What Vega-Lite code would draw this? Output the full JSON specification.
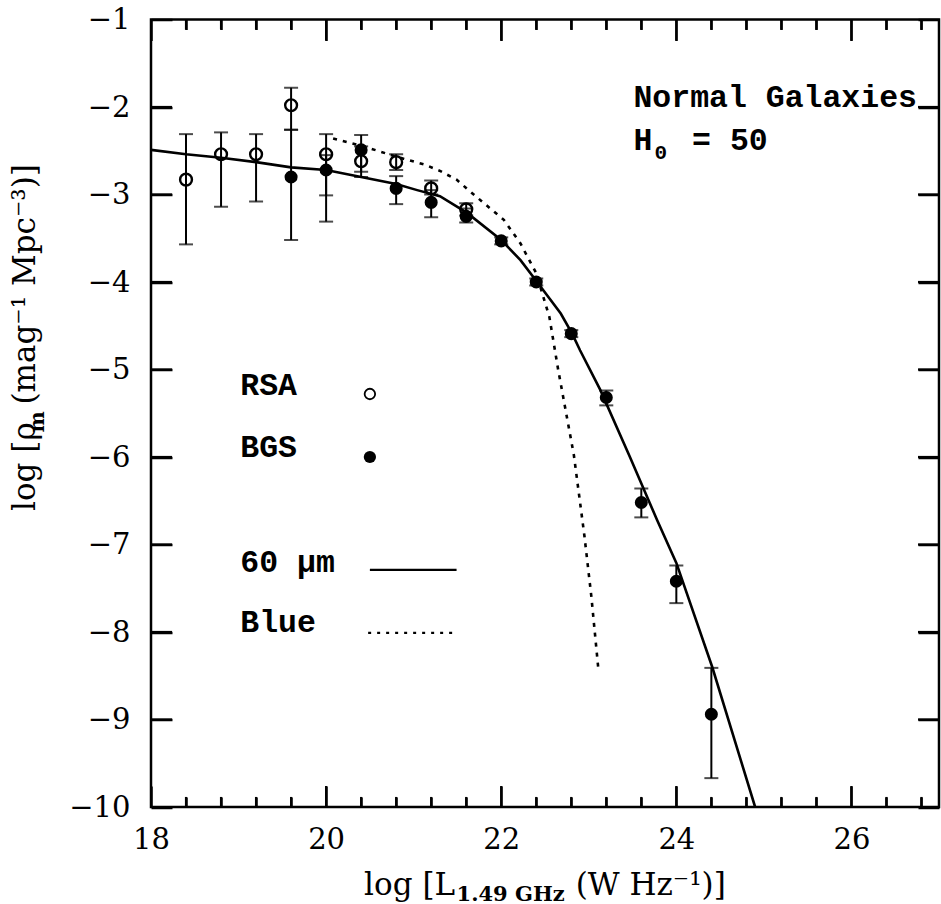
{
  "$schema": "https://vega.github.io/schema/vega-lite/v6.json",
  "width": 788,
  "height": 787.5,
  "autosize": {"type": "none"},
  "padding": {"left": 151, "top": 19.5, "right": 2, "bottom": 97},
  "config": {
    "view": {"stroke": "black", "strokeWidth": 2.5},
    "axis": {"grid": false, "domain": false, "tickWidth": 2.5, "labelColor": "black", "labelFont": "DejaVu Serif", "labelFontSize": 29, "zindex": 1}
  },
  "datasets": {
    "points": [
      {"sample": "RSA", "x": 18.4, "y": -2.83, "lo": -3.57, "hi": -2.31},
      {"sample": "RSA", "x": 18.8, "y": -2.54, "lo": -3.14, "hi": -2.29},
      {"sample": "RSA", "x": 19.2, "y": -2.54, "lo": -3.08, "hi": -2.31},
      {"sample": "RSA", "x": 19.6, "y": -1.98, "lo": -2.26, "hi": -1.78},
      {"sample": "RSA", "x": 20.0, "y": -2.54, "lo": -3.01, "hi": -2.31},
      {"sample": "RSA", "x": 20.4, "y": -2.62, "lo": -2.80, "hi": -2.45},
      {"sample": "RSA", "x": 20.8, "y": -2.63, "lo": -2.72, "hi": -2.54},
      {"sample": "RSA", "x": 21.2, "y": -2.93, "lo": -3.00, "hi": -2.84},
      {"sample": "RSA", "x": 21.6, "y": -3.17, "lo": -3.24, "hi": -3.10},
      {"sample": "BGS", "x": 19.6, "y": -2.80, "lo": -3.52, "hi": -2.26},
      {"sample": "BGS", "x": 20.0, "y": -2.72, "lo": -3.31, "hi": -2.55},
      {"sample": "BGS", "x": 20.4, "y": -2.49, "lo": -2.74, "hi": -2.32},
      {"sample": "BGS", "x": 20.8, "y": -2.93, "lo": -3.11, "hi": -2.79},
      {"sample": "BGS", "x": 21.2, "y": -3.09, "lo": -3.26, "hi": -2.95},
      {"sample": "BGS", "x": 21.6, "y": -3.25, "lo": -3.32, "hi": -3.16},
      {"sample": "BGS", "x": 22.0, "y": -3.53, "lo": -3.57, "hi": -3.49},
      {"sample": "BGS", "x": 22.4, "y": -4.00, "lo": -4.04, "hi": -3.96},
      {"sample": "BGS", "x": 22.8, "y": -4.59, "lo": -4.63, "hi": -4.55},
      {"sample": "BGS", "x": 23.2, "y": -5.32, "lo": -5.41, "hi": -5.24},
      {"sample": "BGS", "x": 23.6, "y": -6.52, "lo": -6.69, "hi": -6.36},
      {"sample": "BGS", "x": 24.0, "y": -7.42, "lo": -7.67, "hi": -7.24},
      {"sample": "BGS", "x": 24.4, "y": -8.94, "lo": -9.67, "hi": -8.41}
    ],
    "fir": [
      {"x": 18.0, "y": -2.49}, {"x": 18.4, "y": -2.54}, {"x": 18.8, "y": -2.58},
      {"x": 19.2, "y": -2.63}, {"x": 19.6, "y": -2.69}, {"x": 20.0, "y": -2.72},
      {"x": 20.4, "y": -2.80}, {"x": 20.8, "y": -2.88}, {"x": 21.04, "y": -2.95},
      {"x": 21.3, "y": -3.02}, {"x": 21.61, "y": -3.21}, {"x": 22.0, "y": -3.52},
      {"x": 22.22, "y": -3.75}, {"x": 22.41, "y": -4.0}, {"x": 22.68, "y": -4.36},
      {"x": 22.81, "y": -4.59}, {"x": 22.9, "y": -4.78}, {"x": 23.13, "y": -5.23},
      {"x": 23.47, "y": -6.0}, {"x": 23.78, "y": -6.72}, {"x": 24.0, "y": -7.21},
      {"x": 24.41, "y": -8.40}, {"x": 24.9, "y": -10.0}
    ],
    "blue": [
      {"x": 20.08, "y": -2.36}, {"x": 20.46, "y": -2.46}, {"x": 20.81, "y": -2.57},
      {"x": 21.13, "y": -2.66}, {"x": 21.3, "y": -2.73}, {"x": 21.49, "y": -2.83},
      {"x": 21.65, "y": -2.97}, {"x": 22.03, "y": -3.29}, {"x": 22.22, "y": -3.56},
      {"x": 22.4, "y": -3.9}, {"x": 22.55, "y": -4.4}, {"x": 22.65, "y": -5.0},
      {"x": 22.83, "y": -5.98}, {"x": 22.95, "y": -6.9}, {"x": 23.03, "y": -7.6},
      {"x": 23.11, "y": -8.43}
    ],
    "xMajor": [{"x": 20}, {"x": 22}, {"x": 24}, {"x": 26}],
    "xMinor": [
      {"x": 18.4}, {"x": 18.8}, {"x": 19.2}, {"x": 19.6}, {"x": 20.4}, {"x": 20.8},
      {"x": 21.2}, {"x": 21.6}, {"x": 22.4}, {"x": 22.8}, {"x": 23.2}, {"x": 23.6},
      {"x": 24.4}, {"x": 24.8}, {"x": 25.2}, {"x": 25.6}, {"x": 26.4}, {"x": 26.8}
    ],
    "yMajor": [{"y": -2}, {"y": -3}, {"y": -4}, {"y": -5}, {"y": -6}, {"y": -7}, {"y": -8}, {"y": -9}],
    "legendLines": [
      {"series": "60 μm", "x": 20.5, "y": -7.29}, {"series": "60 μm", "x": 21.49, "y": -7.29},
      {"series": "Blue", "x": 20.48, "y": -8.01}, {"series": "Blue", "x": 21.45, "y": -8.01}
    ],
    "legendSymbols": [
      {"sample": "RSA", "x": 20.5, "y": -5.28},
      {"sample": "BGS", "x": 20.5, "y": -6.0}
    ],
    "labels": [
      {"label": "RSA", "x": 19.02, "y": -5.29},
      {"label": "BGS", "x": 19.02, "y": -6.0},
      {"label": "60 μm", "x": 19.02, "y": -7.31},
      {"label": "Blue", "x": 19.02, "y": -8.0},
      {"label": "Normal Galaxies", "x": 23.51, "y": -2.0},
      {"label": "H", "x": 23.51, "y": -2.49},
      {"label": "= 50", "x": 24.18, "y": -2.49}
    ]
  },
  "layer": [
    {
      "data": {"name": "fir"},
      "mark": {"type": "line", "color": "black", "strokeWidth": 2.6},
      "encoding": {
        "x": {"field": "x", "type": "quantitative",
          "scale": {"domain": [18, 27], "nice": false, "zero": false},
          "axis": {"orient": "bottom", "title": null, "values": [18, 20, 22, 24, 26], "format": "d", "tickColor": "#000000",
            "tickSize": -21, "labelPadding": 39, "labelBaseline": "top", "labelFlush": false, "labelOverlap": false}},
        "y": {"field": "y", "type": "quantitative",
          "scale": {"domain": [-10, -1], "nice": false, "zero": false},
          "axis": {"orient": "left", "title": null, "tickColor": "#000000",
            "values": [-1, -2, -3, -4, -5, -6, -7, -8, -9, -10],
            "tickSize": -21, "labelPadding": 42, "labelBaseline": "middle", "labelFlush": false, "labelOverlap": false}}
      }
    },
    {
      "data": {"name": "blue"},
      "mark": {"type": "line", "color": "black", "strokeWidth": 2.6, "strokeDash": [4, 6]},
      "encoding": {
        "x": {"field": "x", "type": "quantitative",
          "axis": {"orient": "top", "title": null, "labels": false, "values": [18, 20, 22, 24, 26], "tickSize": -21, "tickColor": "#000000"}},
        "y": {"field": "y", "type": "quantitative",
          "axis": {"orient": "right", "title": null, "labels": false, "tickColor": "#000000",
            "values": [-1, -2, -3, -4, -5, -6, -7, -8, -9, -10], "tickSize": -21}}
      }
    },
    {
      "data": {"name": "points"},
      "mark": {"type": "rule", "color": "black", "strokeWidth": 2},
      "encoding": {
        "x": {"field": "x", "type": "quantitative",
          "axis": {"orient": "bottom", "title": null, "labels": false, "tickColor": "#000000",
            "values": [18.4, 18.8, 19.2, 19.6, 20.4, 20.8, 21.2, 21.6, 22.4, 22.8, 23.2, 23.6, 24.4, 24.8, 25.2, 25.6, 26.4, 26.8],
            "tickSize": -10}},
        "y": {"field": "lo", "type": "quantitative", "axis": null},
        "y2": {"field": "hi"}
      }
    },
    {
      "data": {"name": "points"},
      "transform": [{"fold": ["lo", "hi"], "as": ["end", "val"]}],
      "mark": {"type": "tick", "orient": "horizontal", "color": "black", "size": 14, "thickness": 2},
      "encoding": {
        "x": {"field": "x", "type": "quantitative",
          "axis": {"orient": "top", "title": null, "labels": false, "tickColor": "#000000",
            "values": [18.4, 18.8, 19.2, 19.6, 20.4, 20.8, 21.2, 21.6, 22.4, 22.8, 23.2, 23.6, 24.4, 24.8, 25.2, 25.6, 26.4, 26.8],
            "tickSize": -10}},
        "y": {"field": "val", "type": "quantitative", "axis": null}
      }
    },
    {
      "data": {"name": "xMajor"},
      "mark": {"type": "rule", "color": "black", "strokeWidth": 2.2},
      "encoding": {
        "x": {"field": "x", "type": "quantitative", "axis": null},
        "y": {"datum": -10, "type": "quantitative", "axis": null},
        "y2": {"datum": -9.76}
      }
    },
    {
      "data": {"name": "xMajor"},
      "mark": {"type": "rule", "color": "black", "strokeWidth": 2.2},
      "encoding": {
        "x": {"field": "x", "type": "quantitative", "axis": null},
        "y": {"datum": -1, "type": "quantitative", "axis": null},
        "y2": {"datum": -1.24}
      }
    },
    {
      "data": {"name": "xMinor"},
      "mark": {"type": "rule", "color": "black", "strokeWidth": 2.2},
      "encoding": {
        "x": {"field": "x", "type": "quantitative", "axis": null},
        "y": {"datum": -10, "type": "quantitative", "axis": null},
        "y2": {"datum": -9.885}
      }
    },
    {
      "data": {"name": "xMinor"},
      "mark": {"type": "rule", "color": "black", "strokeWidth": 2.2},
      "encoding": {
        "x": {"field": "x", "type": "quantitative", "axis": null},
        "y": {"datum": -1, "type": "quantitative", "axis": null},
        "y2": {"datum": -1.115}
      }
    },
    {
      "data": {"name": "yMajor"},
      "mark": {"type": "rule", "color": "black", "strokeWidth": 2.2},
      "encoding": {
        "y": {"field": "y", "type": "quantitative", "axis": null},
        "x": {"datum": 18, "type": "quantitative", "axis": null},
        "x2": {"datum": 18.24}
      }
    },
    {
      "data": {"name": "yMajor"},
      "mark": {"type": "rule", "color": "black", "strokeWidth": 2.2},
      "encoding": {
        "y": {"field": "y", "type": "quantitative", "axis": null},
        "x": {"datum": 27, "type": "quantitative", "axis": null},
        "x2": {"datum": 26.76}
      }
    },
    {
      "data": {"name": "points"},
      "transform": [{"filter": "datum.sample === 'RSA'"}],
      "mark": {"type": "point", "shape": "circle", "filled": false, "color": "black", "strokeWidth": 2.4, "size": 140, "opacity": 1},
      "encoding": {
        "x": {"field": "x", "type": "quantitative", "axis": null},
        "y": {"field": "y", "type": "quantitative", "axis": null}
      }
    },
    {
      "data": {"name": "points"},
      "transform": [{"filter": "datum.sample === 'BGS'"}],
      "mark": {"type": "point", "shape": "circle", "filled": true, "color": "black", "size": 170, "opacity": 1},
      "encoding": {
        "x": {"field": "x", "type": "quantitative", "axis": null},
        "y": {"field": "y", "type": "quantitative", "axis": null}
      }
    },
    {
      "data": {"name": "legendSymbols"},
      "transform": [{"filter": "datum.sample === 'RSA'"}],
      "mark": {"type": "point", "shape": "circle", "filled": false, "color": "black", "strokeWidth": 1.8, "size": 110, "opacity": 1},
      "encoding": {
        "x": {"field": "x", "type": "quantitative", "axis": null},
        "y": {"field": "y", "type": "quantitative", "axis": null}
      }
    },
    {
      "data": {"name": "legendSymbols"},
      "transform": [{"filter": "datum.sample === 'BGS'"}],
      "mark": {"type": "point", "shape": "circle", "filled": true, "color": "black", "size": 150, "opacity": 1},
      "encoding": {
        "x": {"field": "x", "type": "quantitative", "axis": null},
        "y": {"field": "y", "type": "quantitative", "axis": null}
      }
    },
    {
      "data": {"name": "legendLines"},
      "transform": [{"filter": "datum.series === '60 μm'"}],
      "mark": {"type": "line", "color": "black", "strokeWidth": 2.2},
      "encoding": {
        "x": {"field": "x", "type": "quantitative", "axis": null},
        "y": {"field": "y", "type": "quantitative", "axis": null}
      }
    },
    {
      "data": {"name": "legendLines"},
      "transform": [{"filter": "datum.series === 'Blue'"}],
      "mark": {"type": "line", "color": "black", "strokeWidth": 2.2, "strokeDash": [3, 6]},
      "encoding": {
        "x": {"field": "x", "type": "quantitative", "axis": null},
        "y": {"field": "y", "type": "quantitative", "axis": null}
      }
    },
    {
      "data": {"name": "labels"},
      "mark": {"type": "text", "font": "Liberation Mono", "fontSize": 31.5, "fontWeight": "bold", "align": "left", "baseline": "alphabetic", "color": "black"},
      "encoding": {
        "x": {"field": "x", "type": "quantitative", "axis": null},
        "y": {"field": "y", "type": "quantitative", "axis": null},
        "text": {"field": "label"}
      }
    },
    {
      "data": {"values": [{"t": "0", "x": 23.75, "y": -2.49}]},
      "mark": {"type": "text", "font": "Liberation Mono", "fontSize": 21, "fontWeight": "bold", "align": "left", "baseline": "alphabetic", "dy": 9, "color": "black"},
      "encoding": {
        "x": {"field": "x", "type": "quantitative", "axis": null},
        "y": {"field": "y", "type": "quantitative", "axis": null},
        "text": {"field": "t"}
      }
    },
    {
      "data": {"values": [
        {"t": "log [L", "x": 20.434, "y": -11.0},
        {"t": "(W Hz⁻¹)]", "x": 22.85, "y": -11.0}
      ]},
      "mark": {"type": "text", "font": "DejaVu Serif", "fontSize": 31, "align": "left", "baseline": "alphabetic", "color": "black"},
      "encoding": {
        "x": {"field": "x", "type": "quantitative", "axis": null},
        "y": {"field": "y", "type": "quantitative", "axis": null},
        "text": {"field": "t"}
      }
    },
    {
      "data": {"values": [{"t": "1.49 GHz", "x": 21.49, "y": -11.0}]},
      "mark": {"type": "text", "font": "DejaVu Serif", "fontSize": 21, "fontWeight": "bold", "align": "left", "baseline": "alphabetic", "dy": 6, "color": "black"},
      "encoding": {
        "x": {"field": "x", "type": "quantitative", "axis": null},
        "y": {"field": "y", "type": "quantitative", "axis": null},
        "text": {"field": "t"}
      }
    },
    {
      "data": {"values": [
        {"t": "log [ρ", "x": 16.674, "y": -6.617},
        {"t": "(mag⁻¹ Mpc⁻³)]", "x": 16.674, "y": -5.40}
      ]},
      "mark": {"type": "text", "font": "DejaVu Serif", "fontSize": 31, "align": "left", "baseline": "alphabetic", "angle": 270, "color": "black"},
      "encoding": {
        "x": {"field": "x", "type": "quantitative", "axis": null},
        "y": {"field": "y", "type": "quantitative", "axis": null},
        "text": {"field": "t"}
      }
    },
    {
      "data": {"values": [{"t": "m", "x": 16.674, "y": -5.72}]},
      "mark": {"type": "text", "font": "DejaVu Serif", "fontSize": 20, "fontWeight": "bold", "align": "left", "baseline": "alphabetic", "angle": 270, "dy": 9, "color": "black"},
      "encoding": {
        "x": {"field": "x", "type": "quantitative", "axis": null},
        "y": {"field": "y", "type": "quantitative", "axis": null},
        "text": {"field": "t"}
      }
    }
  ],
  "resolve": {"axis": {"x": "independent", "y": "independent"}}
}
